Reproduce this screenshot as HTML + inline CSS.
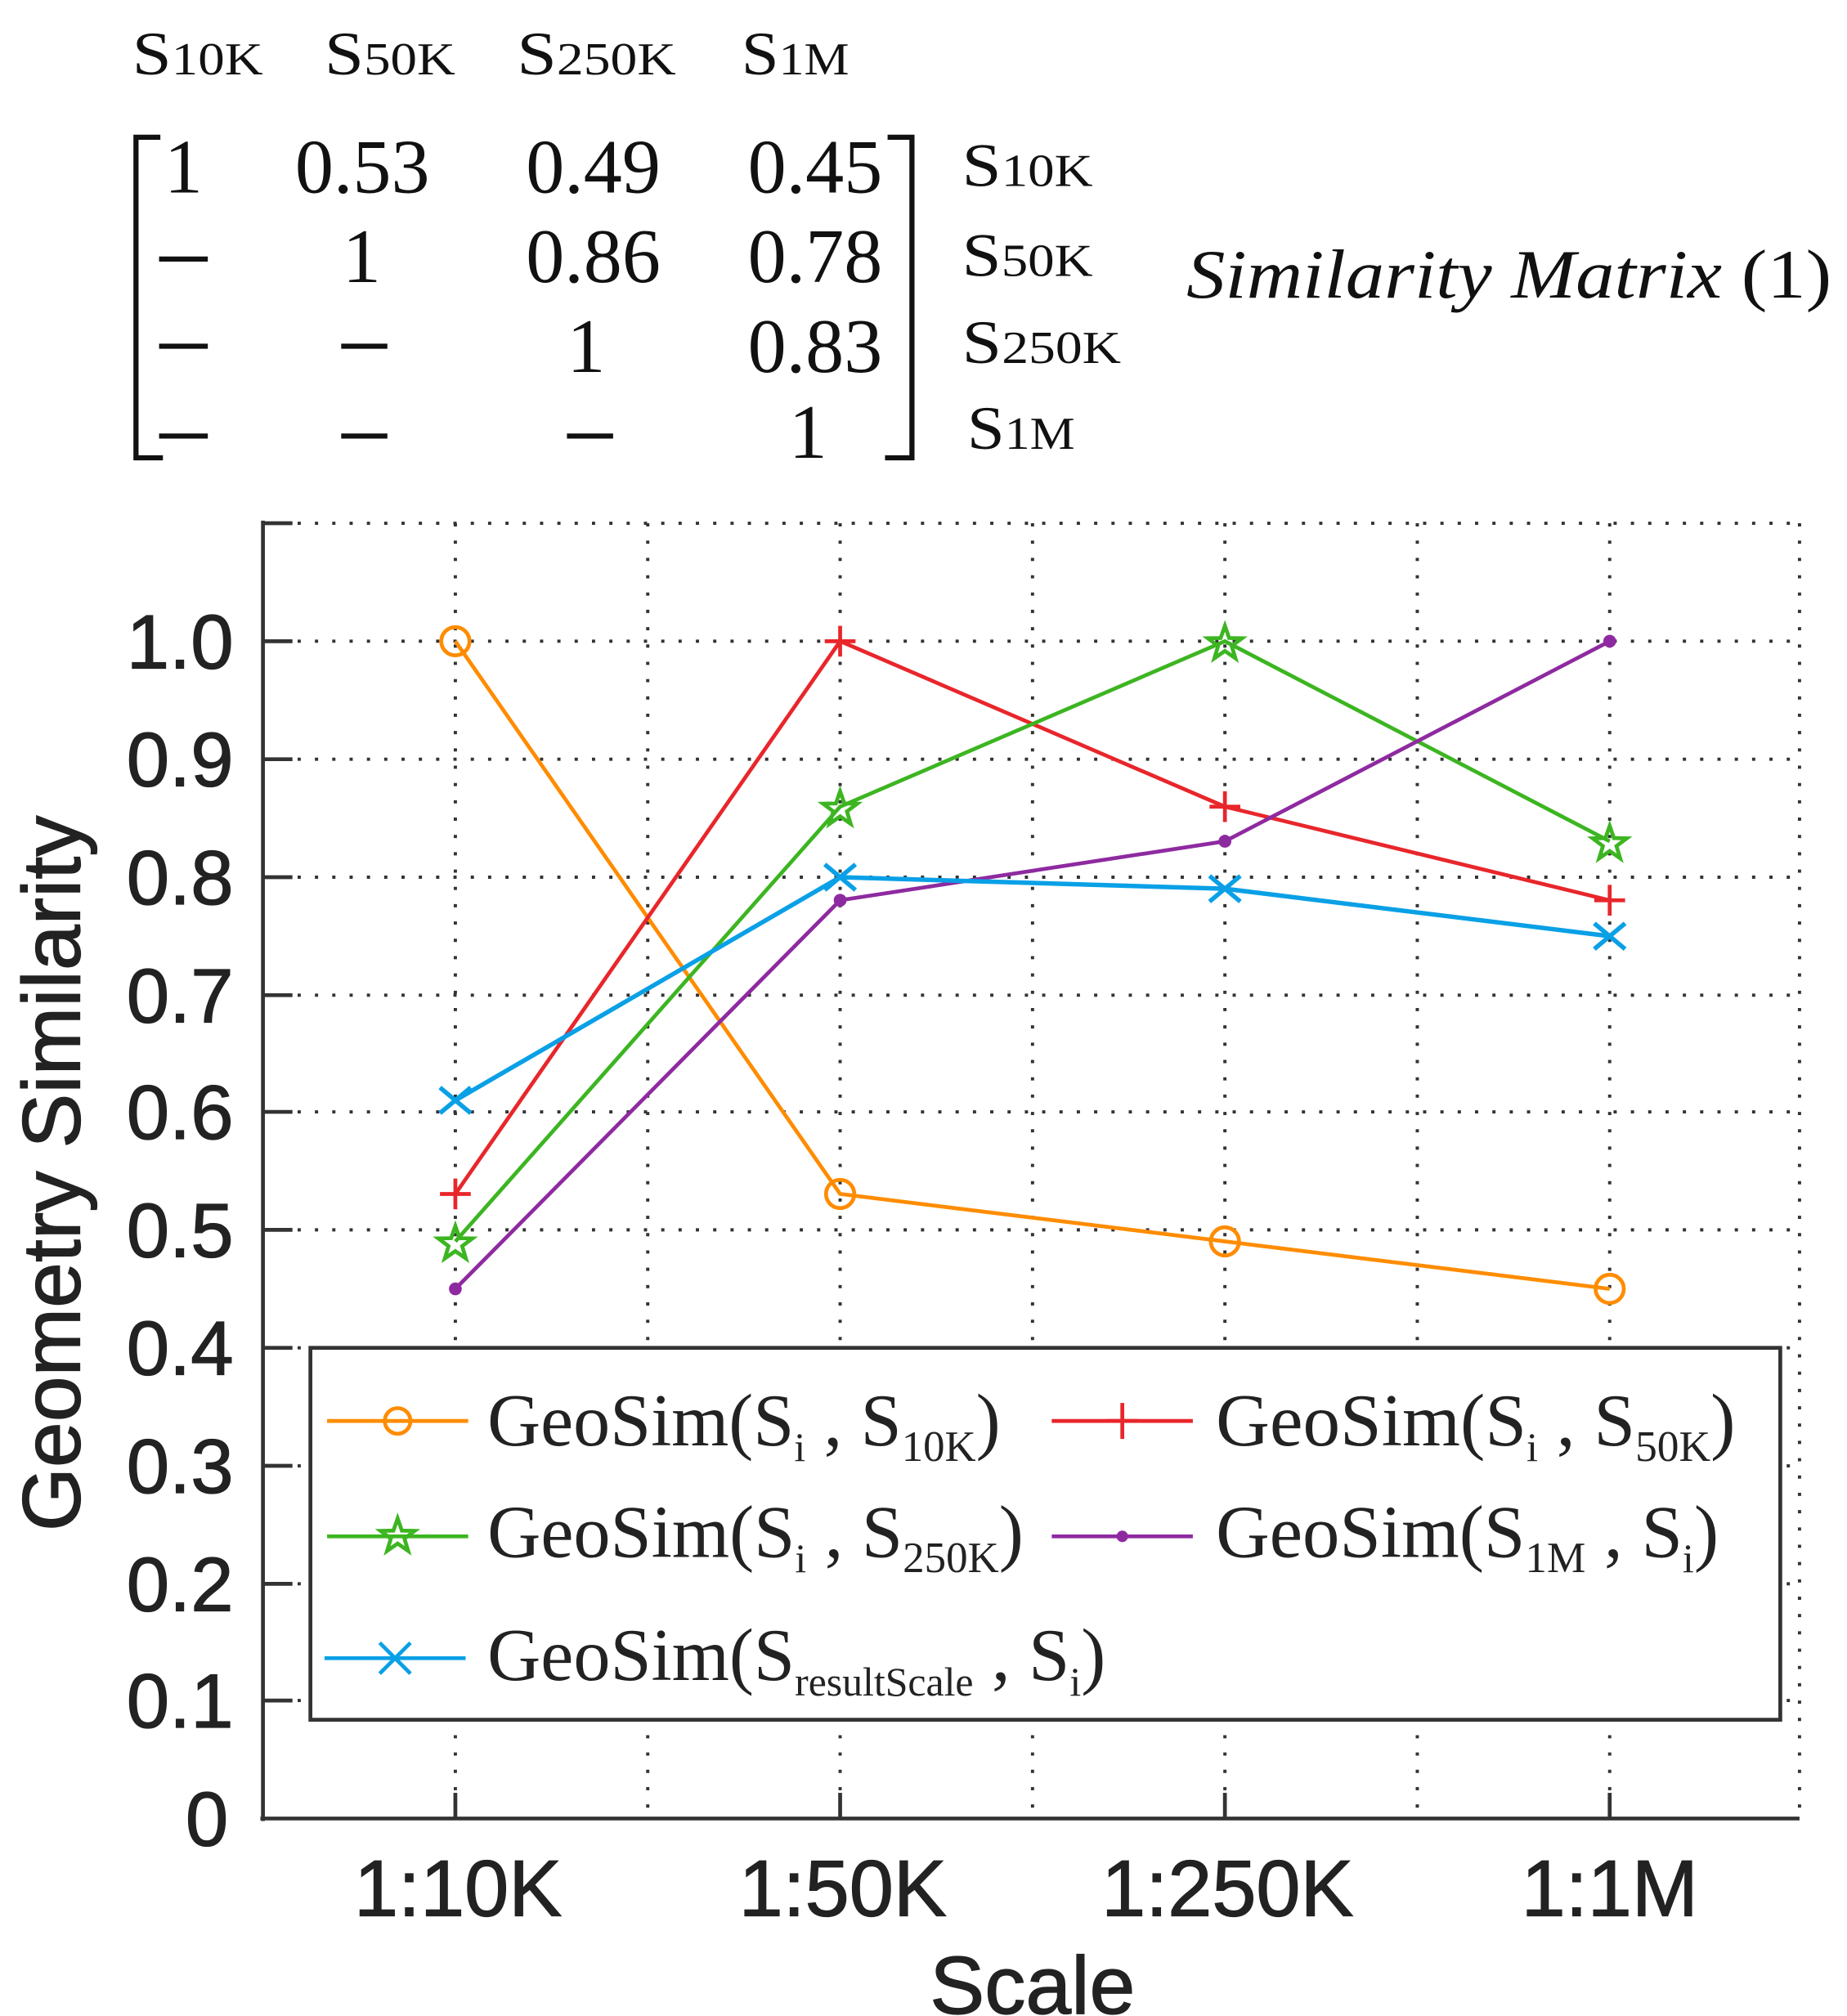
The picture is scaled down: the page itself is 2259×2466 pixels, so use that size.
<!DOCTYPE html>
<html><head><meta charset="utf-8"><style>
html,body{margin:0;padding:0;background:#fff;}
svg{display:block;}
</style></head><body>
<svg width="2259" height="2466" viewBox="0 0 1440 1572" xmlns="http://www.w3.org/2000/svg">
<rect width="1440" height="1572" fill="#fff"/>
<!-- Matrix -->
<g font-family="Liberation Serif, serif" fill="#111">
 <g font-size="48">
  <text x="103" y="58" textLength="102" lengthAdjust="spacingAndGlyphs">S<tspan font-size="36">10K</tspan></text>
  <text x="253" y="58" textLength="102" lengthAdjust="spacingAndGlyphs">S<tspan font-size="36">50K</tspan></text>
  <text x="403" y="58" textLength="124" lengthAdjust="spacingAndGlyphs">S<tspan font-size="36">250K</tspan></text>
  <text x="578" y="58" textLength="84" lengthAdjust="spacingAndGlyphs">S<tspan font-size="36">1M</tspan></text>
  <text x="750" y="145" textLength="102" lengthAdjust="spacingAndGlyphs">S<tspan font-size="36">10K</tspan></text>
  <text x="750" y="215" textLength="102" lengthAdjust="spacingAndGlyphs">S<tspan font-size="36">50K</tspan></text>
  <text x="750" y="283" textLength="124" lengthAdjust="spacingAndGlyphs">S<tspan font-size="36">250K</tspan></text>
  <text x="754" y="350" textLength="84" lengthAdjust="spacingAndGlyphs">S<tspan font-size="36">1M</tspan></text>
 </g>
 <g font-size="60" text-anchor="end">
  <text x="158" y="150">1</text><text x="335" y="150">0.53</text><text x="515" y="150">0.49</text><text x="688" y="150">0.45</text>
  <text x="297" y="220">1</text><text x="515" y="220">0.86</text><text x="688" y="220">0.78</text>
  <text x="472" y="290">1</text><text x="688" y="290">0.83</text>
  <text x="645" y="357">1</text>
 </g>
 <g stroke="#111" stroke-width="4">
  <line x1="124" y1="202" x2="162" y2="202"/>
  <line x1="124" y1="270" x2="162" y2="270"/><line x1="266" y1="270" x2="302" y2="270"/>
  <line x1="124" y1="340" x2="162" y2="340"/><line x1="266" y1="340" x2="302" y2="340"/><line x1="442" y1="340" x2="478" y2="340"/>
 </g>
 <path d="M125 107 H106 V357 H127" fill="none" stroke="#111" stroke-width="4"/>
 <path d="M692 107 H711 V357 H690" fill="none" stroke="#111" stroke-width="4"/>
 <text x="925" y="232" font-size="54" font-style="italic" textLength="503" lengthAdjust="spacingAndGlyphs">Similarity Matrix <tspan font-style="normal">(1)</tspan></text>
</g>
<!-- grid -->
<g stroke="#333" stroke-width="2.5" stroke-dasharray="2.5 11" fill="none">
 <line x1="205" y1="408" x2="1403" y2="408"/>
 <line x1="205" y1="500" x2="1403" y2="500"/>
 <line x1="205" y1="592" x2="1403" y2="592"/>
 <line x1="205" y1="684" x2="1403" y2="684"/>
 <line x1="205" y1="776" x2="1403" y2="776"/>
 <line x1="205" y1="867" x2="1403" y2="867"/>
 <line x1="205" y1="959" x2="1403" y2="959"/>
 <line x1="205" y1="1051" x2="1403" y2="1051"/>
 <line x1="205" y1="1143" x2="1403" y2="1143"/>
 <line x1="205" y1="1235" x2="1403" y2="1235"/>
 <line x1="205" y1="1326" x2="1403" y2="1326"/>
 <line x1="355" y1="408" x2="355" y2="1418"/>
 <line x1="505" y1="408" x2="505" y2="1418"/>
 <line x1="655" y1="408" x2="655" y2="1418"/>
 <line x1="805" y1="408" x2="805" y2="1418"/>
 <line x1="955" y1="408" x2="955" y2="1418"/>
 <line x1="1105" y1="408" x2="1105" y2="1418"/>
 <line x1="1255" y1="408" x2="1255" y2="1418"/>
 <line x1="1403" y1="408" x2="1403" y2="1418"/>
</g>
<g stroke="#333" stroke-width="3">
 <line x1="205" y1="406" x2="205" y2="1420"/>
 <line x1="203" y1="1418" x2="1403" y2="1418"/>
 <line x1="205" y1="408" x2="228" y2="408"/>
 <line x1="205" y1="500" x2="228" y2="500"/><line x1="205" y1="592" x2="228" y2="592"/>
 <line x1="205" y1="684" x2="228" y2="684"/><line x1="205" y1="776" x2="228" y2="776"/>
 <line x1="205" y1="867" x2="228" y2="867"/><line x1="205" y1="959" x2="228" y2="959"/>
 <line x1="205" y1="1051" x2="228" y2="1051"/><line x1="205" y1="1143" x2="228" y2="1143"/>
 <line x1="205" y1="1235" x2="228" y2="1235"/><line x1="205" y1="1326" x2="228" y2="1326"/>
 <line x1="355" y1="1418" x2="355" y2="1398"/><line x1="655" y1="1418" x2="655" y2="1398"/>
 <line x1="955" y1="1418" x2="955" y2="1398"/><line x1="1255" y1="1418" x2="1255" y2="1398"/>
</g>
<!-- axis labels -->
<g font-family="Liberation Sans, sans-serif" fill="#222" stroke="#222" stroke-width="0.8" font-size="60">
 <g text-anchor="end">
  <text x="182" y="521">1.0</text><text x="182" y="613">0.9</text><text x="182" y="705">0.8</text>
  <text x="182" y="797">0.7</text><text x="182" y="888">0.6</text><text x="182" y="980">0.5</text>
  <text x="182" y="1072">0.4</text><text x="182" y="1164">0.3</text><text x="182" y="1256">0.2</text>
  <text x="182" y="1347">0.1</text><text x="178" y="1439">0</text>
 </g>
 <g text-anchor="middle" font-size="62">
  <text x="357" y="1494">1:10K</text><text x="657" y="1494">1:50K</text>
  <text x="957" y="1494">1:250K</text><text x="1255" y="1494">1:1M</text>
  <text x="805" y="1570" font-size="64">Scale</text>
 </g>
 <text transform="translate(62,915) rotate(-90)" text-anchor="middle" font-size="64">Geometry Similarity</text>
</g>
<!-- series -->
<g fill="none" stroke-width="3">
 <polyline stroke="#ff8c00" points="355,500 655,931 955,968 1255,1005"/>
 <polyline stroke="#e8262b" points="355,931 655,500 955,629 1255,702"/>
 <polyline stroke="#3cb521" points="355,968 655,629 955,500 1255,656"/>
 <polyline stroke="#8e2aa0" points="355,1005 655,702 955,656 1255,500"/>
 <polyline stroke="#0aa0e6" stroke-width="3.5" points="355,858 655,684 955,693 1255,730"/>
</g>
<g fill="none" stroke="#ff8c00" stroke-width="3">
 <circle cx="355" cy="500" r="11"/><circle cx="655" cy="931" r="11"/><circle cx="955" cy="968" r="11"/><circle cx="1255" cy="1005" r="11"/>
</g>
<g stroke="#e8262b" stroke-width="3">
 <path d="M343 931h24M355 919v24M643 500h24M655 488v24M943 629h24M955 617v24M1243 702h24M1255 690v24"/>
</g>
<g fill="none" stroke="#3cb521" stroke-width="3">
 <path id="st" d="M0,-14 L3.3,-4.5 L13.3,-4.3 L5.3,1.7 L8.2,11.3 L0,5.6 L-8.2,11.3 L-5.3,1.7 L-13.3,-4.3 L-3.3,-4.5Z" transform="translate(355,970)"/>
 <use href="#st" transform="translate(300,-339)"/>
 <use href="#st" transform="translate(600,-468)"/>
 <use href="#st" transform="translate(900,-312)"/>
</g>
<g fill="#8e2aa0">
 <circle cx="355" cy="1005" r="5"/><circle cx="655" cy="702" r="5"/><circle cx="955" cy="656" r="5"/><circle cx="1255" cy="500" r="5"/>
</g>
<g stroke="#0aa0e6" stroke-width="3.5">
 <path d="M343 848l24 20M367 848l-24 20M643 674l24 20M667 674l-24 20M943 683l24 20M967 683l-24 20M1243 720l24 20M1267 720l-24 20"/>
</g>
<!-- legend -->
<rect x="242" y="1051" width="1146" height="290" fill="#fff" stroke="#333" stroke-width="3"/>
<g stroke-width="3" fill="none">
 <line x1="255" y1="1108" x2="365" y2="1108" stroke="#ff8c00"/><circle cx="310" cy="1108" r="10" stroke="#ff8c00"/>
 <line x1="820" y1="1108" x2="930" y2="1108" stroke="#e8262b"/><path d="M875 1094v28M863 1108h24" stroke="#e8262b"/>
 <line x1="255" y1="1198" x2="365" y2="1198" stroke="#3cb521"/>
 <use href="#st" transform="translate(-45,228)" stroke="#3cb521"/>
 <line x1="820" y1="1198" x2="930" y2="1198" stroke="#8e2aa0"/><circle cx="875" cy="1198" r="4.5" fill="#8e2aa0" stroke="none"/>
 <line x1="253" y1="1293" x2="363" y2="1293" stroke="#0aa0e6"/><path d="M296 1281l24 24M320 1281l-24 24" stroke="#0aa0e6"/>
</g>
<g font-family="Liberation Serif, serif" font-size="58" fill="#222">
 <text x="380" y="1127" textLength="400" lengthAdjust="spacingAndGlyphs">GeoSim(S<tspan font-size="32" dy="12">i</tspan><tspan dy="-12"> , S</tspan><tspan font-size="34" dy="12">10K</tspan><tspan dy="-12">)</tspan></text>
 <text x="948" y="1127" textLength="405" lengthAdjust="spacingAndGlyphs">GeoSim(S<tspan font-size="32" dy="12">i</tspan><tspan dy="-12"> , S</tspan><tspan font-size="34" dy="12">50K</tspan><tspan dy="-12">)</tspan></text>
 <text x="380" y="1214" textLength="418" lengthAdjust="spacingAndGlyphs">GeoSim(S<tspan font-size="32" dy="12">i</tspan><tspan dy="-12"> , S</tspan><tspan font-size="34" dy="12">250K</tspan><tspan dy="-12">)</tspan></text>
 <text x="948" y="1214" textLength="392" lengthAdjust="spacingAndGlyphs">GeoSim(S<tspan font-size="34" dy="12">1M</tspan><tspan dy="-12"> , S</tspan><tspan font-size="32" dy="12">i</tspan><tspan dy="-12">)</tspan></text>
 <text x="380" y="1310" textLength="482" lengthAdjust="spacingAndGlyphs">GeoSim(S<tspan font-size="32" dy="12">resultScale</tspan><tspan dy="-12"> , S</tspan><tspan font-size="32" dy="12">i</tspan><tspan dy="-12">)</tspan></text>
</g>
</svg>
</body></html>
